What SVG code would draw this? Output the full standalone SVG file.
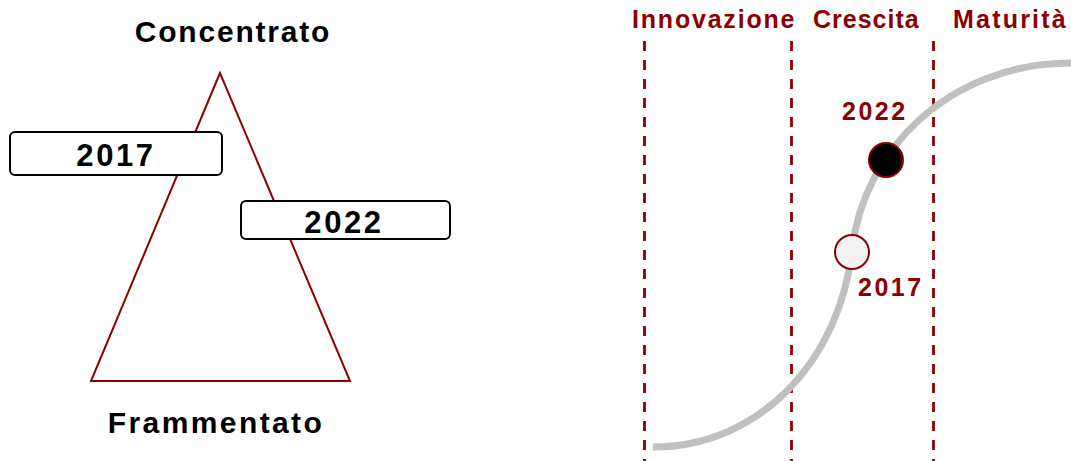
<svg xmlns="http://www.w3.org/2000/svg" width="1071" height="461" viewBox="0 0 1071 461">
<style>
.blk{font-family:"Liberation Sans",Arial,sans-serif;font-weight:bold;fill:#000}
.red{font-family:"Liberation Sans",Arial,sans-serif;font-weight:bold;fill:#8B0000}
.box{fill:#fff;stroke:#000;stroke-width:2}
.dash{stroke:#8B0000;stroke-width:2.8;stroke-dasharray:10 9;fill:none}
</style>
<rect width="1071" height="461" fill="#fff"/>
<g id="pyramid">
<polygon points="220,73 91,381 350,381" fill="none" stroke="#8B0000" stroke-width="2"/>
<text class="blk" x="233" y="42" font-size="30" letter-spacing="1.8" text-anchor="middle">Concentrato</text>
<text class="blk" x="216" y="433" font-size="30" letter-spacing="2.4" text-anchor="middle">Frammentato</text>
</g>
<g id="box2017">
<rect class="box" x="10" y="132" width="212" height="43" rx="5"/>
<text class="blk" x="116" y="166" font-size="31" letter-spacing="2.6" text-anchor="middle">2017</text>
</g>
<g id="box2022">
<rect class="box" x="241" y="201" width="209" height="38" rx="5"/>
<text class="blk" x="344" y="233" font-size="31" letter-spacing="2.6" text-anchor="middle">2022</text>
</g>
<g id="phases">
<line class="dash" x1="644.5" y1="41" x2="644.5" y2="461"/>
<line class="dash" x1="791.5" y1="41" x2="791.5" y2="461"/>
<line class="dash" x1="933.5" y1="41" x2="933.5" y2="461"/>
<text class="red" x="632" y="28" font-size="25" letter-spacing="1.8">Innovazione</text>
<text class="red" x="813" y="28" font-size="25" letter-spacing="1">Crescita</text>
<text class="red" x="953" y="28" font-size="25" letter-spacing="2.2">Maturità</text>
</g>
<g id="connectors">
<path d="M653,447 C760,447 840,360 852,250 C863,150 950,63 1071,63" fill="none" stroke="#C0C0C0" stroke-width="7"/>
</g>
<g id="point2017">
<circle cx="852" cy="252" r="17" fill="#F2F2F2" stroke="#8B0000" stroke-width="2"/>
<text class="red" x="858" y="296" font-size="25" letter-spacing="2.5">2017</text>
</g>
<g id="point2022">
<circle cx="886" cy="160" r="17" fill="#000" stroke="#8B0000" stroke-width="2"/>
<text class="red" x="842" y="120" font-size="25" letter-spacing="2.5">2022</text>
</g>
</svg>
